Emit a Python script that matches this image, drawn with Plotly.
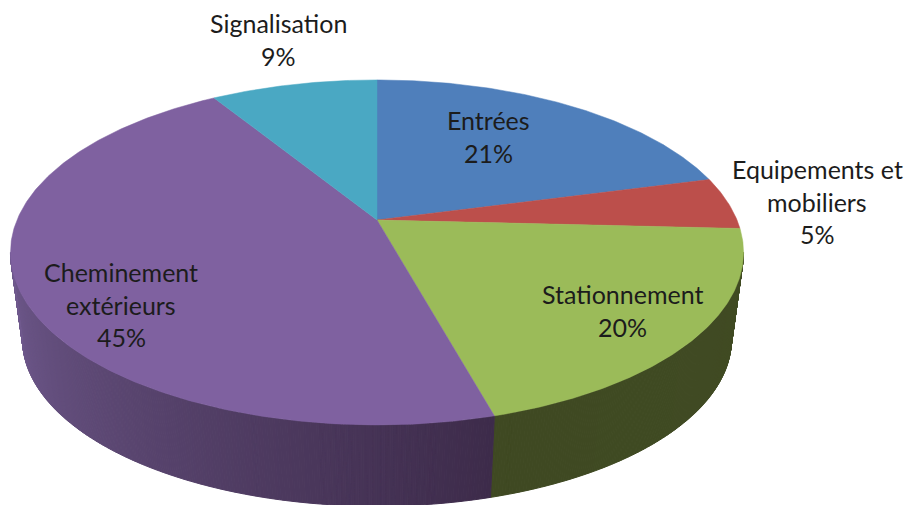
import math
import plotly.graph_objects as go

categories = ["Entrées", "Equipements et mobiliers", "Stationnement", "Cheminement extérieurs", "Signalisation"]
values = [20.9, 4.9, 19.9, 45.5, 8.8]
colors = ["#4F7FBB", "#BC4F4B", "#9BBB59", "#7F61A0", "#4AA8C3"]

label_lines = [
    ["Entrées", "21%"],
    ["Equipements et", "mobiliers", "5%"],
    ["Stationnement", "20%"],
    ["Cheminement", "extérieurs", "45%"],
    ["Signalisation", "9%"],
]
label_centres = [(488, 120), (817, 169), (622, 294), (121, 272), (278, 23)]
LINE_STEP = 32.5

# Projection of the tilted disc into the pixel-sized axes
CX, CY, A, B, K = 377, 220, 360, 166.4, 0.188
DROP, SCALE = 88, 0.967


def project(theta, lower=False):
    X, Y = math.sin(theta), math.cos(theta)
    s = 1 / (1 + K * Y)
    if lower:
        return CX + SCALE * A * X * s, CY + DROP - SCALE * B * Y * s
    return CX + A * X * s, CY - B * Y * s


def mix(c1, c2, t):
    return "rgb(%d,%d,%d)" % tuple(round(a + (b - a) * t) for a, b in zip(c1, c2))


fig = go.Figure()
total = sum(values)
edges = [0.0]
for v in values:
    edges.append(edges[-1] + v / total * 2 * math.pi)

# Side wall (visible part only)
vis0 = math.pi - math.acos(K)
vis1 = math.pi + math.acos(K)
wall_colours = {
    2: ((64, 75, 35), (63, 73, 34)),
    3: ((61, 43, 74), (112, 90, 142)),
}
for i, (c_start, c_end) in wall_colours.items():
    t0 = max(edges[i], vis0)
    t1 = min(edges[i + 1], vis1)
    n = max(2, int((t1 - t0) / 0.006))
    for j in range(n):
        a0 = t0 + (t1 - t0) * j / n
        a1 = t0 + (t1 - t0) * (j + 1) / n
        pts = [project(a0), project(a1), project(a1, True), project(a0, True)]
        col = mix(c_start, c_end, ((a0 + a1) / 2 - t0) / (t1 - t0))
        fig.add_trace(go.Scatter(
            x=[p[0] for p in pts] + [pts[0][0]],
            y=[p[1] for p in pts] + [pts[0][1]],
            mode="lines", fill="toself", fillcolor=col,
            line=dict(color=col, width=1), hoverinfo="skip", showlegend=False,
        ))

# Top face
for i, name in enumerate(categories):
    n = max(4, int((edges[i + 1] - edges[i]) / 0.01))
    arc = [project(edges[i] + (edges[i + 1] - edges[i]) * j / n) for j in range(n + 1)]
    xs = [CX] + [p[0] for p in arc] + [CX]
    ys = [CY] + [p[1] for p in arc] + [CY]
    fig.add_trace(go.Scatter(
        x=xs, y=ys, mode="lines", fill="toself", fillcolor=colors[i],
        line=dict(color=colors[i], width=0.5), name=name, hoverinfo="name", showlegend=False,
    ))

annotations = []
for lines, (lx, ly) in zip(label_lines, label_centres):
    for k, txt in enumerate(lines):
        annotations.append(dict(
            x=lx, y=ly + k * LINE_STEP, text=txt, showarrow=False, xref="x", yref="y",
            xanchor="center", yanchor="middle",
            font=dict(family="Lato", size=25, color="#1c1c1c"),
        ))

fig.update_layout(
    width=905, height=505, autosize=False,
    margin=dict(l=0, r=0, t=0, b=0),
    paper_bgcolor="white", plot_bgcolor="white",
    xaxis=dict(range=[0, 905], visible=False, fixedrange=True),
    yaxis=dict(range=[505, 0], visible=False, fixedrange=True),
    annotations=annotations,
)
fig.write_html(
    "out.html",
    config={"displayModeBar": False},
    post_script="document.body.style.margin='0';document.documentElement.style.overflow='hidden';",
)
